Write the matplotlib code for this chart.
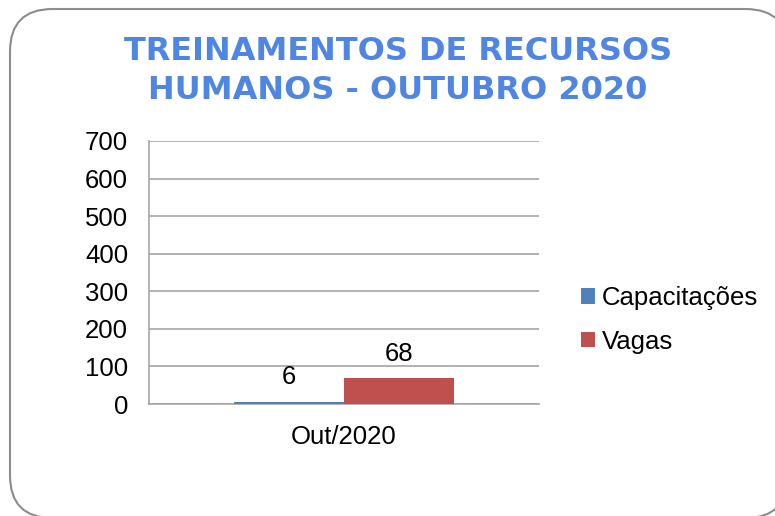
import matplotlib
matplotlib.use("Agg")
from matplotlib import pyplot as plt
from matplotlib.patches import FancyBboxPatch

# dados do grafico
categorias = ["Out/2020"]
series = ["Capacitações", "Vagas"]
valores = [6, 68]
cores = ["#4F81BD", "#C0504D"]
yticks = [0, 100, 200, 300, 400, 500, 600, 700]

W, H = 775, 516
fig = plt.figure(figsize=(W / 100, H / 100), dpi=100)
plt.rcParams['font.family'] = ['Liberation Sans', 'DejaVu Sans']

# moldura arredondada
frame = FancyBboxPatch((10 / W, 1 - 518 / H), 778 / W, 509 / H,
                       boxstyle="round,pad=0,rounding_size=0.055",
                       transform=fig.transFigure, facecolor="white",
                       edgecolor="#8C8C8C", linewidth=1.5, mutation_aspect=W / H,
                       zorder=-10)
fig.patches.append(frame)

ax = fig.add_axes([149 / W, 1 - 404 / H, 390 / W, 263 / H])
ax.set_facecolor("none")

largura = 0.283
for i, (nome, v, c) in enumerate(zip(series, valores, cores)):
    x = (i - 0.5) * largura
    ax.bar(x, v, width=largura, color=c, label=nome, zorder=3)
    ax.annotate(str(v), (x, v), xytext=(0, 9), textcoords="offset points",
                ha="center", va="bottom", fontsize=18.5)

ax.set_xlim(-0.5, 0.5)
ax.set_ylim(0, 700)
ax.set_yticks(yticks)
ax.set_xticks([0])
ax.set_xticklabels(categorias)
ax.tick_params(axis="both", length=0, labelsize=18.5)
ax.tick_params(axis="y", pad=15)
ax.tick_params(axis="x", pad=15)
ax.grid(axis="y", color="#A6A6A6", linewidth=1.2, zorder=0)
for s in ["top", "right"]:
    ax.spines[s].set_visible(False)
for s in ["left", "bottom"]:
    ax.spines[s].set_color("#A6A6A6")
    ax.spines[s].set_linewidth(1.2)

fig.legend(loc="upper left", bbox_to_anchor=(571 / W, 1 - 276 / H), frameon=False,
           fontsize=18.5, handlelength=0.55, handleheight=0.55, handletextpad=0.25,
           labelspacing=0.75, borderaxespad=0)

fig.text(398 / W, 1 - 71 / H, "TREINAMENTOS DE RECURSOS\nHUMANOS - OUTUBRO 2020",
         ha="center", va="center", fontsize=23, fontweight="bold",
         color="#4F86E3", family="DejaVu Sans", linespacing=1.3)

fig.savefig("out.png", dpi=100)
